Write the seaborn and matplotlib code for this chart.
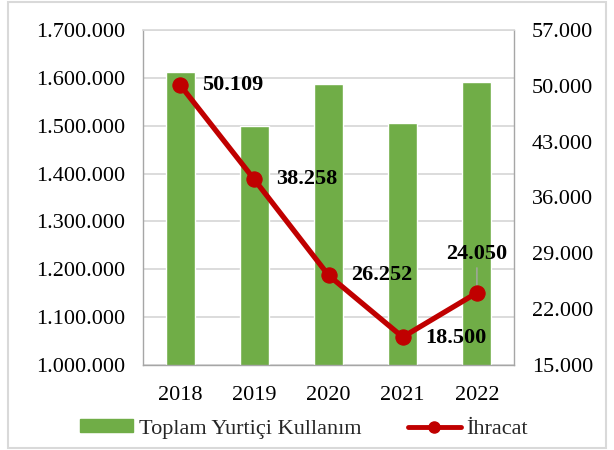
import matplotlib
matplotlib.use("Agg")
import matplotlib.pyplot as plt
import seaborn as sns
import pandas as pd
import numpy as np
from matplotlib.ticker import FuncFormatter, MultipleLocator, FixedLocator
from matplotlib.lines import Line2D
from matplotlib.patches import Patch, Rectangle

years = ["2018", "2019", "2020", "2021", "2022"]
domestic = [1612000, 1500000, 1588000, 1505000, 1592000]
exports = [50109, 38258, 26252, 18500, 24050]
right_ticks = [15000, 22000, 29000, 36000, 43000, 50000, 57000]
label_domestic = "Toplam Yurtiçi Kullanım"
label_exports = "İhracat"

sns.set_theme(style="white")
plt.rcParams['font.family'] = ['Liberation Serif', 'DejaVu Serif']

GREEN = "#70AD47"
RED = "#C00000"
FS = 16

def dotfmt(v, pos=None):
    return f"{int(round(v)):,}".replace(",", ".")

fig = plt.figure(figsize=(6.14, 4.5), dpi=100)
ax = fig.add_axes([143/614, 1-365/450, (514-143)/614, (365-30)/450])

df = pd.DataFrame({"year": years, "val": domestic})
sns.barplot(data=df, x="year", y="val", color=GREEN, width=0.39, ax=ax,
            saturation=1, zorder=2)
ax.set_ylim(1000000, 1700000)
ax.yaxis.set_major_locator(MultipleLocator(100000))
ax.yaxis.set_major_formatter(FuncFormatter(dotfmt))
ax.set_xlim(-0.5, 4.5)
ax.grid(axis="y", color="#D9D9D9", linewidth=1.3, zorder=0)
ax.set_axisbelow(True)
ax.set_xlabel("")
ax.set_ylabel("")
for s in ["left", "right", "bottom"]:
    ax.spines[s].set_color("#A6A6A6")
    ax.spines[s].set_linewidth(1.0)
ax.spines["top"].set_color("#D9D9D9")
ax.tick_params(axis="both", labelsize=FS, length=0, colors="black")
ax.tick_params(axis="y", pad=13)
ax.tick_params(axis="x", pad=15)

ax2 = ax.twinx()
xpos = np.arange(len(years))
sns.lineplot(x=xpos, y=exports, ax=ax2, color=RED, linewidth=3.8,
             marker="o", markersize=11, markeredgecolor=RED, zorder=5)
ax2.set_ylim(right_ticks[0], right_ticks[-1])
ax2.yaxis.set_major_locator(FixedLocator(right_ticks))
ax2.yaxis.set_major_formatter(FuncFormatter(dotfmt))
ax2.tick_params(axis="y", labelsize=FS, length=0, pad=13, colors="black")
for s in ["left", "right", "bottom", "top"]:
    ax2.spines[s].set_visible(False)
ax2.set_xlim(-0.5, 4.5)

offsets = [(16, 0, "left", "center"), (16, 0, "left", "center"),
           (16, 0, "left", "center"), (16, -1, "left", "center"),
           (0, 28, "center", "center")]
for i, (v, (dx, dy, ha, va)) in enumerate(zip(exports, offsets)):
    ax2.annotate(dotfmt(v), (xpos[i], v), xytext=(dx, dy), textcoords="offset points",
                 ha=ha, va=va, fontsize=FS, fontweight="bold", color="black", zorder=6)
# leader line for last label
ax2.annotate("", (xpos[4], exports[4]), xytext=(0, 18), textcoords="offset points",
             arrowprops=dict(arrowstyle="-", color="#A6A6A6", lw=1.0, shrinkA=0, shrinkB=3))

handles = [Patch(facecolor=GREEN, edgecolor=GREEN),
           Line2D([0], [0], color=RED, lw=3.5, marker="o", markersize=8)]
fig.legend(handles, [label_domestic, label_exports], loc="center",
           bbox_to_anchor=(304/614, 1-429/450), ncol=2, frameon=False, fontsize=FS,
           handlelength=2.4, handleheight=0.5, columnspacing=2.1, handletextpad=0.25)

fig.add_artist(Rectangle((8/614, 2/450), 1-16/614, 1-4/450, transform=fig.transFigure,
                         fill=False, edgecolor="#D9D9D9", linewidth=1.5))

fig.savefig("out.png", dpi=100)
